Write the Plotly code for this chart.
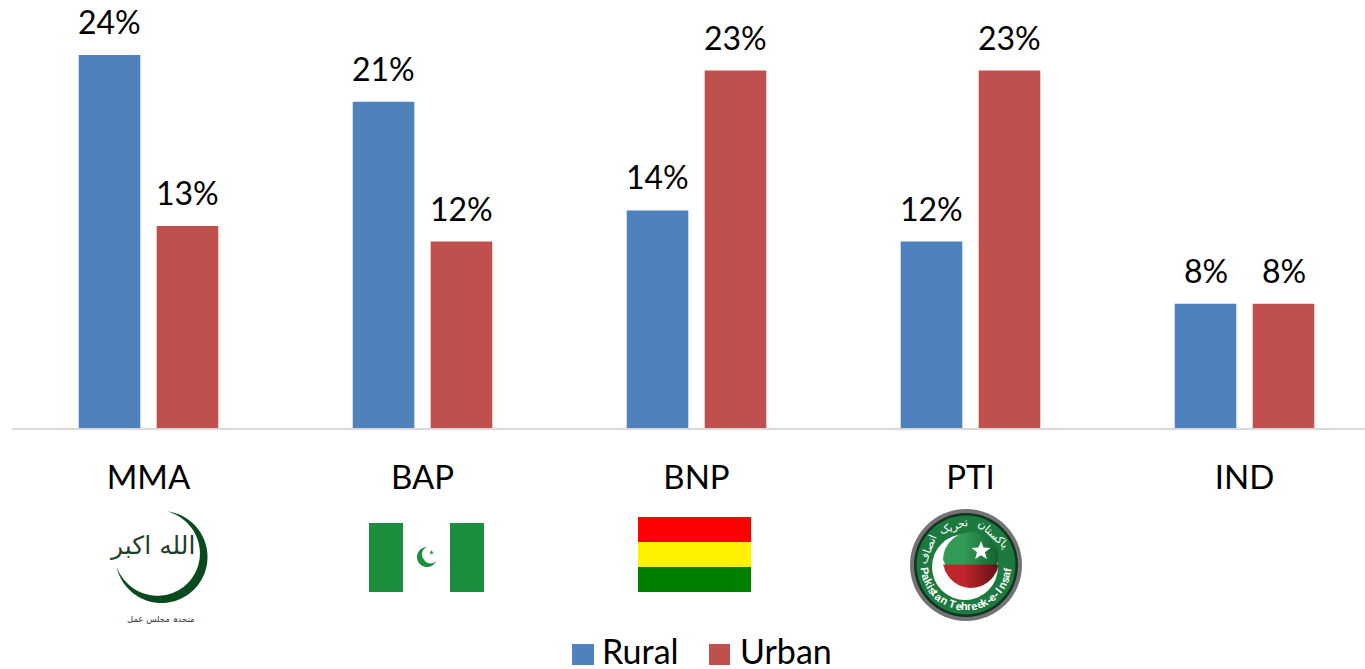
import math
import plotly.graph_objects as go

categories = ["MMA", "BAP", "BNP", "PTI", "IND"]
rural = [24, 21, 14, 12, 8]
urban = [13, 12, 23, 23, 8]
series_names = ["Rural", "Urban"]
pti_motto = "Pakistan Tehreek-e-Insaf"
pti_urdu = ["پاکستان", "تحریک", "انصاف"]
mma_top = "الله اکبر"
mma_bottom = "متحدہ مجلس عمل"

W, H = 1365, 669
BLUE, RED = "#4F81BD", "#C0504D"
FONT = "Lato"


def X(px):
    return px / W


def Y(py):
    return 1 - py / H


def poly(points, fill, stroke=0):
    d = "M" + " L".join(f"{X(x):.5f},{Y(y):.5f}" for x, y in points) + " Z"
    return dict(type="path", xref="paper", yref="paper", path=d, fillcolor=fill,
                line=dict(width=stroke, color=fill), layer="above")


def rect(x0, y0, x1, y1, fill):
    return dict(type="rect", xref="paper", yref="paper", x0=X(x0), x1=X(x1), y0=Y(y1), y1=Y(y0),
                fillcolor=fill, line=dict(width=0), layer="above")


def circle(cx, cy, r, fill):
    return dict(type="circle", xref="paper", yref="paper", x0=X(cx - r), x1=X(cx + r),
                y0=Y(cy + r), y1=Y(cy - r), fillcolor=fill, line=dict(width=0), layer="above")


def crescent(cx, cy, R, a0, a1, thick, fill, n=80):
    outer, inner = [], []
    for i in range(n + 1):
        u = i / n
        a = math.radians(a0 + (a1 - a0) * u)
        t = thick * math.sin(math.pi * u)
        outer.append((cx + R * math.cos(a), cy + R * math.sin(a)))
        inner.append((cx + (R - t) * math.cos(a), cy + (R - t) * math.sin(a)))
    return poly(outer + inner[::-1], fill)


def star(cx, cy, r, fill, rot=-90):
    pts = []
    for i in range(10):
        rr = r if i % 2 == 0 else r * 0.42
        a = math.radians(rot + 36 * i)
        pts.append((cx + rr * math.cos(a), cy + rr * math.sin(a)))
    return poly(pts, fill)


def mix(c0, c1, u):
    return "rgb(" + ",".join(str(round(a + (b - a) * u)) for a, b in zip(c0, c1)) + ")"


def shaded_disc(cx, cy, r, split_y, strips=22):
    """Disc in two colours, darkening to the right, built from narrow vertical strips."""
    out = []
    for i in range(strips):
        x0 = cx - r + 2 * r * i / strips
        x1 = min(cx - r + 2 * r * (i + 1) / strips, cx + r)
        u = max(0.0, (i / strips - 0.35) / 0.65)
        top_pts, bot_pts = [], []
        for k in range(7):
            x = x0 + (x1 - x0) * k / 6
            h = math.sqrt(max(r * r - (x - cx) ** 2, 0))
            top_pts.append((x, cy - h))
            bot_pts.append((x, cy + h))
        mid = [(x1, min(split_y, bot_pts[-1][1])), (x0, min(split_y, bot_pts[0][1]))]
        out.append(poly([(x, min(y, split_y)) for x, y in top_pts] + mid,
                        mix((50, 155, 85), (20, 95, 50), u), stroke=0.8))
        if bot_pts[0][1] > split_y or bot_pts[-1][1] > split_y:
            mid2 = [(x1, split_y), (x0, split_y)]
            out.append(poly([(x, max(y, split_y)) for x, y in bot_pts] + mid2,
                            mix((190, 38, 44), (95, 18, 22), u), stroke=0.8))
    return out


def label(x, y, text, size, color="#000000", angle=0, font=FONT, anchor="center", **kw):
    return dict(xref="paper", yref="paper", x=X(x), y=Y(y), text=text, showarrow=False,
                xanchor=anchor, yanchor="middle", textangle=angle, align="center",
                font=dict(family=font, size=size, color=color), **kw)


fig = go.Figure()
for name, vals, col in zip(series_names, (rural, urban), (BLUE, RED)):
    fig.add_bar(x=categories, y=vals, name=name, marker=dict(color=col, line=dict(width=0)))

shapes, annos = [], []

# value labels, tied to the data
for vals, shift in ((rural, -39), (urban, 39)):
    for c, v in zip(categories, vals):
        annos.append(dict(x=c, y=v, xref="x", yref="y", text=f"{v}%", showarrow=False,
                          xanchor="center", yanchor="bottom", xshift=shift, yshift=12,
                          font=dict(family=FONT, size=32, color="#000000")))

# legend
shapes += [rect(572, 644, 594, 665, BLUE), rect(709, 644, 730, 665, RED)]
annos += [label(600, 650, series_names[0], 34, anchor="left", height=34),
          label(737.5, 650, series_names[1], 34, anchor="left", height=34)]

# MMA logo
MMA_GREEN = "#0B4A1E"
shapes.append(crescent(161.5, 557, 46, -83, 168, 9, MMA_GREEN))
annos.append(label(152, 545, mma_top, 25, "#1F3F28", font="DejaVu Sans"))
annos.append(label(161, 619, mma_bottom, 8.5, "#333333", font="DejaVu Sans"))

# BAP flag
FLAG_GREEN = "#1B8F3D"
shapes += [rect(369, 523, 403, 592, FLAG_GREEN), rect(450, 523, 484, 592, FLAG_GREEN)]
shapes.append(crescent(427, 557, 10, 25, 270, 6, FLAG_GREEN))
shapes.append(star(431.5, 552.5, 2.5, FLAG_GREEN))

# BNP flag
shapes += [rect(638, 517, 751, 542, "#FF0000"), rect(638, 542, 751, 567, "#FFF200"),
           rect(638, 567, 751, 592, "#008000")]

# PTI logo
cx, cy = 966, 565
shapes += [circle(cx, cy, 56, "#737373"), circle(cx, cy, 52, "#12331F"), circle(cx, cy, 49.5, "#1C7A3F"),
           circle(965, 567, 33, "#FFFFFF")]
shapes += shaded_disc(971, 560, 27.5, 565)
shapes.append(star(981, 551, 10, "#FFFFFF"))

narrow = {"i": 0.5, "l": 0.5, "-": 0.6, "t": 0.65, " ": 0.6, "f": 0.6, "r": 0.7, "e": 0.95, "k": 0.9, "s": 0.9}
weights = [narrow.get(c, 1.05) for c in pti_motto]
span = 172.0
pos = -span / 2
for ch, w in zip(pti_motto, weights):
    step = span * w / sum(weights)
    phi = pos + step / 2
    pos += step
    if ch != " ":
        annos.append(label(cx + 41.5 * math.sin(math.radians(phi)), cy + 41.5 * math.cos(math.radians(phi)),
                           f"<b>{ch}</b>", 11, "#FFFFFF", angle=-phi, font="Liberation Sans"))
for word, phi in zip(pti_urdu, (42, -18, -68)):
    annos.append(label(cx + 41 * math.sin(math.radians(phi)), cy - 41 * math.cos(math.radians(phi)),
                       word, 11, "#FFFFFF", angle=phi, font="DejaVu Sans"))

fig.update_layout(
    width=W, height=H, margin=dict(l=0, r=0, t=0, b=0, autoexpand=False),
    paper_bgcolor="white", plot_bgcolor="white",
    barmode="group", bargap=0.431, bargroupgap=0.21, showlegend=False,
    shapes=shapes, annotations=annos,
    xaxis=dict(domain=[11.5 / W, 1], range=[-0.5, (W - 148.5) / 274], type="category", automargin=False,
               showgrid=False, zeroline=False, showline=True, linecolor="#D9D9D9", linewidth=2,
               ticks="", ticklabelstandoff=19, tickfont=dict(family=FONT, size=33, color="#000000")),
    yaxis=dict(domain=[(H - 428) / H, 1], range=[0, 428 / 15.54], visible=False, automargin=False),
)
fig.write_html("out.html", config={"displayModeBar": False},
               post_script="document.body.style.margin='0';document.body.style.overflow='hidden';")
